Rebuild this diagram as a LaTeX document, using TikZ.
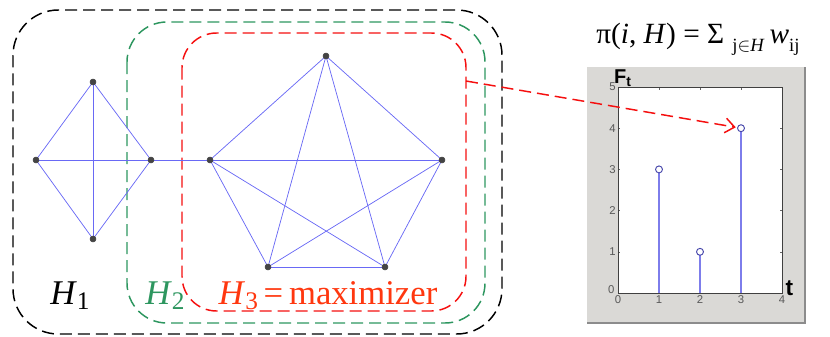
\documentclass[tikz,border=0pt]{standalone}
\usepackage{fontspec}
\setmainfont{Liberation Serif}
\setsansfont{Liberation Sans}
\usetikzlibrary{arrows.meta, positioning, calc}
\definecolor{edgeblue}{RGB}{105,105,245}
\definecolor{stemblue}{RGB}{125,125,235}
\definecolor{markblue}{RGB}{70,70,170}
\definecolor{setgreen}{RGB}{45,150,95}
\definecolor{setred}{RGB}{245,15,15}
\definecolor{labred}{RGB}{255,55,15}
\definecolor{figgray}{RGB}{218,217,214}
\definecolor{vertgray}{RGB}{68,68,68}
\tikzset{
  setbox/.style={line width=1.1pt, dash pattern=on 9pt off 4.5pt},
  edge/.style={edgeblue, line width=0.55pt},
  ticklab/.style={font=\sffamily\fontsize{8.5}{9}\selectfont, text=black!65, inner sep=1pt},
  setlab/.style={anchor=base, inner sep=0pt, font=\fontsize{26}{30}\selectfont}
}
\begin{document}
\begin{tikzpicture}[x=0.75pt, y=-0.75pt, >=stealth]
        \useasboundingbox (0,0) rectangle (830,336);

        % Define vertices of the two graphs
        \coordinate (d1) at (93,82);
        \coordinate (d2) at (36,160);
        \coordinate (d3) at (151,160);
        \coordinate (d4) at (93,239);
        \coordinate (p1) at (326,56);
        \coordinate (p2) at (210,160);
        \coordinate (p3) at (442,160);
        \coordinate (p4) at (268,267);
        \coordinate (p5) at (385,267);

        % Draw nested sets
        \draw[setbox, black, rounded corners=34pt] (13,10) rectangle (502,334);
        \draw[setbox, setgreen, rounded corners=30pt] (127,22) rectangle (485,323);
        \draw[setbox, setred, rounded corners=26pt] (182,33) rectangle (466,311);

        % Draw edges
        \foreach \a/\b in {d1/d2, d1/d3, d1/d4, d2/d4, d3/d4, d2/d3, d3/p2}
          \draw[edge] (\a) -- (\b);
        \foreach \a/\b in {p1/p2, p1/p3, p1/p4, p1/p5, p2/p3, p2/p4, p2/p5, p3/p4, p3/p5, p4/p5}
          \draw[edge] (\a) -- (\b);

        % Vertices
        \foreach \v in {d1, d2, d3, d4, p1, p2, p3, p4, p5}
          \filldraw[vertgray] (\v) circle (3);

        % Set labels
        \node[setlab] (h1) at (70,304) {\textit{H}\raisebox{-4pt}{\fontsize{19}{20}\selectfont 1}};
        \node[setlab, text=setgreen] (h2) at (165,304) {\textit{H}\raisebox{-4pt}{\fontsize{19}{20}\selectfont 2}};
        \node[setlab, text=labred] (h3) at (328,304) {\textit{H}\raisebox{-4pt}{\fontsize{19}{20}\selectfont 3}\,=\,maximizer};

        % Formula
        \node[anchor=base west, inner sep=0pt, font=\fontsize{22}{26}\selectfont] (pif) at (596,43)
          {π(\textit{i}, \textit{H}) = Σ\;\raisebox{-6pt}{\fontsize{14}{15}\selectfont j$\in$\textit{H}}\,\textit{w}\raisebox{-6pt}{\fontsize{14}{15}\selectfont ij}};

        % Plot window
        \fill[figgray] (587,67) rectangle (805,323);
        \draw[black!45, line width=1pt] (587,323) -- (805,323) -- (805,67);
        \fill[white] (618,87) rectangle (782,293);

        \begin{scope}[shift={(618,293)}, x=30.75pt, y=30.9pt]
          % ticks
          \foreach \t in {1,2,3} {
            \draw[black!60, line width=0.4pt] (\t,0) -- (\t,0.08);
            \draw[black!60, line width=0.4pt] (\t,5) -- (\t,4.92);
          }
          \foreach \t in {1,...,4} {
            \draw[black!60, line width=0.4pt] (0,\t) -- (0.06,\t);
            \draw[black!60, line width=0.4pt] (4,\t) -- (3.94,\t);
          }
          \draw[black!75, line width=0.6pt] (0,0) rectangle (4,5);
          \foreach \t in {0,...,4}
            \node[ticklab, below] (xl\t) at (\t,-0.02) {\t};
          \node[ticklab, left] (yl0) at (-0.05,0.08) {0};
          \foreach \t in {1,...,5}
            \node[ticklab, left] (yl\t) at (-0.02,\t) {\t};

          % stems
          \coordinate (s1) at (1,3);
          \coordinate (s2) at (2,1);
          \coordinate (s3) at (3,4);
          \foreach \s/\t in {s1/1, s2/2, s3/3} {
            \draw[stemblue, line width=0.8pt] (\t,0) -- (\s);
            \draw[markblue, fill=white, line width=0.7pt] (\s) circle (2.6pt);
          }
          \node[anchor=south west, inner sep=0pt, font=\sffamily\bfseries\fontsize{15}{16}\selectfont] (ft) at (-0.1,5.0) {F\textsubscript{t}};
          \node[anchor=south west, inner sep=0pt, font=\sffamily\bfseries\fontsize{17}{18}\selectfont] (tl) at (4.08,-0.08) {t};
        \end{scope}

        % Pointer to the maximizer
        \coordinate (rtip) at (466,81);
        \draw[setred, line width=1.1pt, dash pattern=on 9pt off 4.5pt, shorten >=4pt,
              -{Straight Barb[length=7pt, width=11pt, line width=1.1pt]}] (rtip) -- (s3);
\end{tikzpicture}
\end{document}
